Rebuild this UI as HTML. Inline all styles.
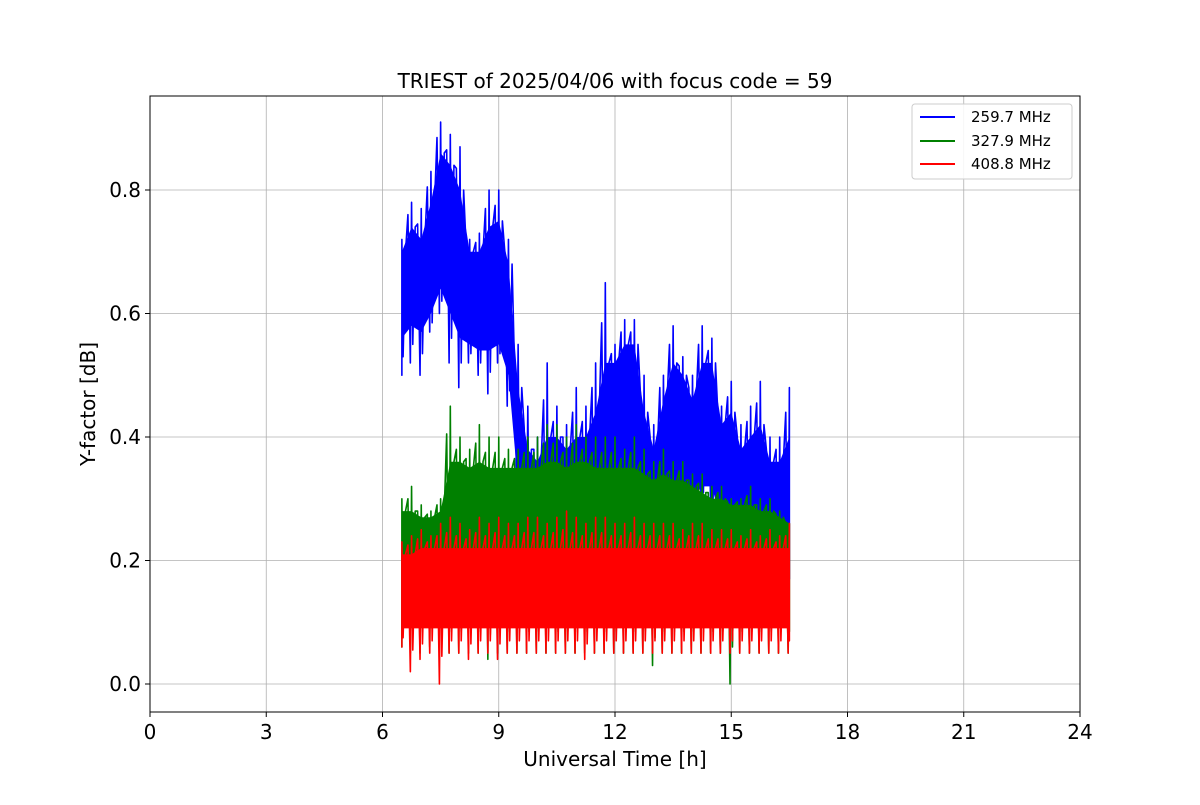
<!DOCTYPE html>
<html><head><meta charset="utf-8">
<style>
body{margin:0;background:#fff;font-family:"Liberation Sans","DejaVu Sans",sans-serif;}
svg text{font-family:"DejaVu Sans","Liberation Sans",sans-serif;}
</style></head>
<body>
<svg id="chart" width="1200" height="800" viewBox="0 0 1200 800" xmlns="http://www.w3.org/2000/svg">
<rect width="1200" height="800" fill="#fff"/>
<g id="grid"></g>
<g id="series"></g>
<rect x="150" y="96" width="930" height="616" fill="none" stroke="#000" stroke-width="1"/>
<g id="axes"></g>
<text x="615" y="88" font-size="20" text-anchor="middle">TRIEST of 2025/04/06 with focus code = 59</text>
<text x="615" y="766" font-size="20" text-anchor="middle">Universal Time [h]</text>
<text transform="translate(95,404) rotate(-90)" font-size="20" text-anchor="middle">Y-factor [dB]</text>
<g>
<rect x="912" y="104" width="160" height="75" rx="3" fill="#fff" fill-opacity="0.85" stroke="#ccc"/>
<line x1="920" y1="117" x2="955" y2="117" stroke="#0000ff" stroke-width="2"/>
<text x="971" y="122" font-size="15">259.7 MHz</text>
<line x1="920" y1="141" x2="955" y2="141" stroke="#008000" stroke-width="2"/>
<text x="971" y="146" font-size="15">327.9 MHz</text>
<line x1="920" y1="164" x2="955" y2="164" stroke="#ff0000" stroke-width="2"/>
<text x="971" y="169" font-size="15">408.8 MHz</text>
</g>
</svg>
<script>
const xTicks = [0,3,6,9,12,15,18,21,24];
const yTicks = [0.0,0.2,0.4,0.6,0.8];
const yTickLabels = ["0.0","0.2","0.4","0.6","0.8"];
const timeStart = 6.5;
const timeEnd = 16.5;
const timeStep = 0.25;
const blueMax = [0.72,0.78,0.77,0.83,0.91,0.89,0.87,0.72,0.73,0.80,0.80,0.72,0.55,0.45,0.40,0.52,0.45,0.42,0.48,0.45,0.52,0.65,0.55,0.59,0.59,0.50,0.42,0.50,0.58,0.53,0.50,0.58,0.56,0.45,0.49,0.42,0.45,0.49,0.40,0.40,0.48];
const blueHi  = [0.70,0.74,0.72,0.78,0.86,0.84,0.80,0.70,0.70,0.74,0.75,0.68,0.48,0.38,0.36,0.40,0.40,0.38,0.40,0.40,0.44,0.52,0.52,0.55,0.55,0.44,0.38,0.46,0.52,0.50,0.46,0.52,0.52,0.42,0.44,0.38,0.40,0.42,0.36,0.36,0.40];
const blueLo  = [0.56,0.58,0.57,0.60,0.64,0.60,0.56,0.55,0.54,0.54,0.55,0.50,0.32,0.26,0.24,0.24,0.24,0.24,0.26,0.26,0.26,0.30,0.30,0.32,0.34,0.28,0.24,0.28,0.32,0.32,0.30,0.32,0.32,0.26,0.26,0.24,0.24,0.24,0.22,0.22,0.24];
const blueMin = [0.50,0.52,0.50,0.57,0.60,0.52,0.48,0.52,0.50,0.47,0.52,0.45,0.30,0.25,0.20,0.15,0.15,0.15,0.12,0.12,0.15,0.25,0.25,0.25,0.30,0.20,0.15,0.22,0.30,0.30,0.25,0.30,0.28,0.20,0.20,0.15,0.15,0.15,0.10,0.10,0.10];
const greenMax = [0.30,0.32,0.29,0.28,0.30,0.45,0.40,0.38,0.42,0.40,0.40,0.38,0.38,0.40,0.40,0.42,0.42,0.40,0.42,0.40,0.40,0.40,0.40,0.38,0.40,0.38,0.36,0.38,0.36,0.36,0.34,0.34,0.32,0.32,0.30,0.30,0.32,0.30,0.30,0.28,0.26];
const greenHi  = [0.28,0.28,0.27,0.27,0.28,0.36,0.36,0.35,0.36,0.35,0.35,0.35,0.35,0.35,0.35,0.36,0.36,0.35,0.36,0.36,0.35,0.35,0.35,0.35,0.35,0.34,0.33,0.34,0.33,0.33,0.32,0.31,0.30,0.30,0.29,0.29,0.29,0.28,0.28,0.27,0.26];
const greenLo  = [0.12,0.12,0.12,0.12,0.12,0.12,0.12,0.12,0.12,0.12,0.12,0.12,0.12,0.12,0.12,0.12,0.12,0.12,0.12,0.12,0.12,0.12,0.12,0.12,0.12,0.12,0.12,0.12,0.12,0.12,0.12,0.12,0.12,0.12,0.12,0.12,0.12,0.12,0.12,0.12,0.12];
const greenMin = [0.06,0.05,0.05,0.06,0.05,0.05,0.05,0.05,0.05,0.04,0.05,0.05,0.05,0.05,0.05,0.05,0.05,0.05,0.05,0.05,0.05,0.05,0.05,0.05,0.05,0.05,0.03,0.05,0.05,0.05,0.05,0.05,0.05,0.05,0.00,0.05,0.05,0.05,0.05,0.05,0.05];
const redMax = [0.23,0.24,0.25,0.24,0.26,0.27,0.26,0.25,0.27,0.26,0.27,0.26,0.26,0.27,0.27,0.26,0.27,0.28,0.27,0.26,0.27,0.27,0.26,0.26,0.27,0.26,0.26,0.26,0.26,0.25,0.26,0.26,0.25,0.25,0.25,0.24,0.25,0.24,0.25,0.24,0.26];
const redHi  = [0.21,0.21,0.22,0.22,0.22,0.22,0.22,0.22,0.22,0.22,0.22,0.22,0.22,0.22,0.22,0.22,0.22,0.22,0.22,0.22,0.22,0.22,0.22,0.22,0.22,0.22,0.22,0.22,0.22,0.22,0.22,0.22,0.22,0.22,0.22,0.22,0.22,0.22,0.22,0.22,0.22];
const redLo  = [0.09,0.09,0.09,0.09,0.09,0.09,0.09,0.09,0.09,0.09,0.09,0.09,0.09,0.09,0.09,0.09,0.09,0.09,0.09,0.09,0.09,0.09,0.09,0.09,0.09,0.09,0.09,0.09,0.09,0.09,0.09,0.09,0.09,0.09,0.09,0.09,0.09,0.09,0.09,0.09,0.09];
const redMin = [0.06,0.02,0.04,0.05,0.00,0.05,0.05,0.04,0.05,0.05,0.04,0.05,0.05,0.05,0.05,0.05,0.05,0.05,0.05,0.04,0.05,0.05,0.05,0.05,0.05,0.05,0.05,0.05,0.05,0.05,0.05,0.05,0.05,0.05,0.05,0.05,0.05,0.05,0.05,0.05,0.05];

const NS = "http://www.w3.org/2000/svg";
function xScale(h){ return 150 + h*(930/24); }
function yScale(v){ return 684 - v*(494/0.8); }
function mk(tag, attrs, parent){ const e=document.createElementNS(NS,tag); for(const k in attrs) e.setAttribute(k,attrs[k]); parent.appendChild(e); return e; }

const grid=document.getElementById('grid'), axes=document.getElementById('axes'), series=document.getElementById('series');
xTicks.forEach(t=>{
  const x=xScale(t);
  const g=mk('line',{x1:x,x2:x,y1:96,y2:712,stroke:'#b0b0b0','stroke-width':0.8},grid);
  
  
  mk('line',{x1:x,x2:x,y1:712,y2:717,stroke:'#000'},axes);
  const tx=mk('text',{x:x,y:739,'font-size':20,'text-anchor':'middle'},axes);
  tx.textContent=String(t);
  
  
});
yTicks.forEach((t,i)=>{
  const y=yScale(t);
  const g=mk('line',{x1:150,x2:1080,y1:y,y2:y,stroke:'#b0b0b0','stroke-width':0.8},grid);
  
  
  mk('line',{x1:145,x2:150,y1:y,y2:y,stroke:'#000'},axes);
  const tx=mk('text',{x:141,y:y+7,'font-size':20,'text-anchor':'end'},axes);
  tx.textContent=yTickLabels[i];
  
  
});

function drawSeries(name,color,mx,hi,lo,mn){
  const g=mk('g',{},series);
  
  
  let pts=[];
  for(let i=0;i<hi.length;i++) pts.push(xScale(timeStart+i*timeStep)+','+yScale(hi[i]));
  for(let i=lo.length-1;i>=0;i--) pts.push(xScale(timeStart+i*timeStep)+','+yScale(lo[i]));
  const band=mk('polygon',{points:pts.join(' '),fill:color},g);
  
  
  const x0=xScale(timeStart), x1=xScale(timeEnd);
  const w=timeStep*(930/24)/4;
  const cl=v=>Math.min(x1,Math.max(x0,v));
  let d='';
  for(let i=0;i<mx.length;i++){
    const x=xScale(timeStart+i*timeStep);
    const mid1=(hi[i]+mx[i])/2, mid2=(lo[i]+mn[i])/2;
    d+=(i===0?'M':'L')+cl(x-1.5*w)+','+yScale(mid1)+' L'+cl(x-0.5*w)+','+yScale(mn[i])+' L'+cl(x)+','+yScale(mx[i])+' L'+cl(x+0.5*w)+','+yScale(mid2)+' L'+cl(x+1.5*w)+','+yScale(hi[i])+' ';
  }
  const p=mk('path',{d:d,fill:'none',stroke:color,'stroke-width':1.6,'stroke-linejoin':'round'},g);
  
  
}
drawSeries('series-259-7-mhz','#0000ff',blueMax,blueHi,blueLo,blueMin);
drawSeries('series-327-9-mhz','#008000',greenMax,greenHi,greenLo,greenMin);
drawSeries('series-408-8-mhz','#ff0000',redMax,redHi,redLo,redMin);
</script>
</body></html>
